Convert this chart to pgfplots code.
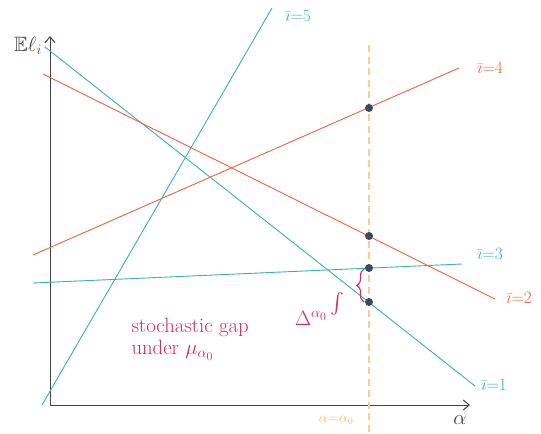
\documentclass[border=0pt]{standalone}
\usepackage{pgfplots}
\pgfplotsset{compat=1.18}
\usepackage{amssymb}
\usetikzlibrary{decorations.pathreplacing,arrows.meta}

\definecolor{tealline}{HTML}{3BB0B3}
\definecolor{redline}{HTML}{F45F3F}
\definecolor{refline}{HTML}{FCC47A}
\definecolor{dotcol}{HTML}{3B4B5E}
\definecolor{gapcol}{HTML}{D42A5C}
\definecolor{axcol}{HTML}{4A4242}

\begin{document}
\begin{tikzpicture}
\begin{axis}[
  scale only axis, width=541pt, height=433pt,
  xmin=0, xmax=541, ymin=0, ymax=433, y dir=reverse,
  hide axis, clip=false,
  every axis plot/.append style={line width=0.9pt},
]
% frame of the picture
\path (axis cs:0,0) rectangle (axis cs:541,433);

% hand-drawn axes
\addplot[axcol, line width=1pt, -{Straight Barb[length=6pt,width=10pt]}] coordinates {(50,405) (50,36)};
\addplot[axcol, line width=1pt, -{Straight Barb[length=6pt,width=10pt]}] coordinates {(50,405) (470,405)};

% expected loss of each i as a function of alpha
\addplot[tealline] coordinates {(45,47) (475,386)};   % i=1
\addplot[redline]  coordinates {(43,74) (495,299)};   % i=2
\addplot[tealline] coordinates {(33,283) (462,264)};  % i=3
\addplot[redline]  coordinates {(33,255) (459,68)};   % i=4
\addplot[tealline] coordinates {(42,405) (272,8)};    % i=5

% alpha = alpha_0
\addplot[refline!85!white, line width=1.1pt, dash pattern=on 7pt off 4.5pt] coordinates {(369,45) (369,433)};

% values at alpha_0
\addplot[only marks, mark=*, mark size=3.5pt, dotcol] coordinates {
  (369,108) (369,236) (369,268) (369,302)};

% labels
\node[axcol, font=\huge] at (axis cs:28,46) {$\mathbb{E}\ell_i$};
\node[axcol, font=\huge] at (axis cs:460,420) {$\alpha$};
\node[refline!85!orange, font=\Large] at (axis cs:336,420) {$\alpha{=}\alpha_0$};
\node[tealline, font=\LARGE] at (axis cs:298,16) {$\bar{\imath}{=}5$};
\node[redline, font=\LARGE] at (axis cs:490,68) {$\bar{\imath}{=}4$};
\node[tealline, font=\LARGE] at (axis cs:490,254) {$\bar{\imath}{=}3$};
\node[redline, font=\LARGE] at (axis cs:519,298) {$\bar{\imath}{=}2$};
\node[tealline, font=\LARGE] at (axis cs:494,385) {$\bar{\imath}{=}1$};

% stochastic gap annotation
\draw[gapcol, line width=1.1pt, decorate, decoration={brace, amplitude=7pt}]
  (axis cs:364,302) -- (axis cs:364,269);
\node[gapcol, font=\huge] at (axis cs:337,304) {$\int$};
\node[gapcol, font=\huge] at (axis cs:311,318) {$\Delta^{\alpha_0}$};
\node[gapcol, font=\huge, anchor=west] at (axis cs:128,327) {stochastic gap};
\node[gapcol, font=\huge, anchor=west] at (axis cs:128,350) {under $\mu_{\alpha_0}$};
\end{axis}
\end{tikzpicture}
\end{document}
